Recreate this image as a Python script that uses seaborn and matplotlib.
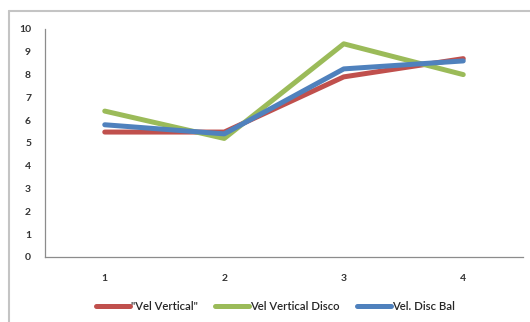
import pandas as pd
import seaborn as sns
import matplotlib.pyplot as plt
from matplotlib.lines import Line2D

# data
categories = [1, 2, 3, 4]
vel_vertical = [5.48, 5.48, 7.9, 8.7]
vel_vertical_disco = [6.4, 5.2, 9.35, 8.0]
vel_disc_bal = [5.8, 5.4, 8.25, 8.6]
series_names = ['"Vel Vertical"', 'Vel Vertical Disco', 'Vel. Disc Bal']
colors = ['#C0504D', '#9BBB59', '#4F81BD']

df = pd.DataFrame({
    'x': categories * 3,
    'y': vel_vertical + vel_vertical_disco + vel_disc_bal,
    'series': [s for s in series_names for _ in categories],
})

sns.set_style('white')
plt.rcParams['font.family'] = ['Lato', 'DejaVu Sans']

fig = plt.figure(figsize=(5.3, 3.22), dpi=100)
ax = fig.add_axes([45 / 530, 65 / 322, 478 / 530, 228 / 322])

sns.lineplot(data=df, x='x', y='y', hue='series', palette=colors,
             linewidth=3.6, ax=ax, legend=False)

ax.set_xlim(0.5, 4.5)
ax.set_ylim(0, 10)
ax.set_xticks(categories)
ax.set_yticks(range(0, 11))
ax.tick_params(length=0, labelsize=7.5, colors='#333333')
for lbl in ax.get_xticklabels() + ax.get_yticklabels():
    lbl.set_fontweight('bold')
ax.tick_params(axis='x', pad=12)
ax.tick_params(axis='y', pad=10)
ax.set_xlabel('')
ax.set_ylabel('')
for side in ['top', 'right']:
    ax.spines[side].set_visible(False)
for side in ['left', 'bottom']:
    ax.spines[side].set_color('#8c8c8c')
    ax.spines[side].set_linewidth(0.9)

# legend at the bottom
handles = [Line2D([0], [0], color=c, lw=3.6) for c in colors]
fig.legend(handles, series_names, loc='center', bbox_to_anchor=(0.52, 16 / 322),
           ncol=3, frameon=False, handlelength=3.0,
           handletextpad=0.1, columnspacing=1.5,
           prop={'weight': 'semibold', 'size': 8.2})

# chart area border (left and top visible)
fig.add_artist(Line2D([9 / 530, 9 / 530], [0, 1 - 11 / 322], color='#c4c4c4', lw=1.5))
fig.add_artist(Line2D([9 / 530, 1], [1 - 11 / 322, 1 - 11 / 322], color='#c4c4c4', lw=1.5))

fig.savefig('out.png', dpi=100)
